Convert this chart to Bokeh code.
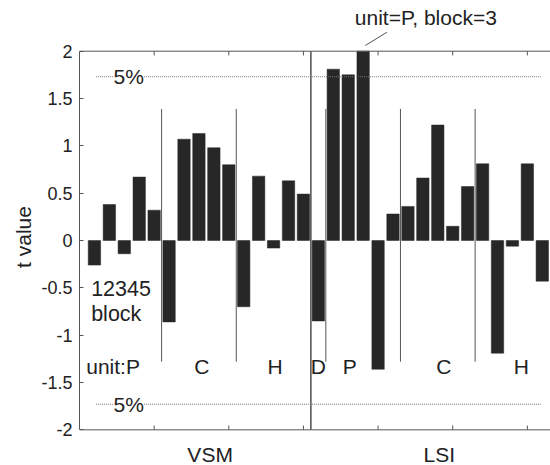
from bokeh.plotting import figure
from bokeh.models import Range1d, FixedTicker, Label, Arrow, ColumnDataSource, Span
from bokeh.embed import file_html
from bokeh.resources import INLINE

# ---- data ----
blocks = list(range(1, 32))
t_values = [-0.26, 0.38, -0.14, 0.67, 0.32,      # VSM unit P
            -0.86, 1.07, 1.13, 0.98, 0.80,       # VSM unit C
            -0.70, 0.68, -0.08, 0.63, 0.49,      # VSM unit H
            -0.85,                               # LSI unit D
            1.81, 1.75, 2.00, -1.36, 0.28,       # LSI unit P
            0.36, 0.66, 1.22, 0.15, 0.57,        # LSI unit C
            0.81, -1.19, -0.06, 0.81, -0.43]     # LSI unit H
unit_names = ["unit:P", "C", "H", "D", "P", "C", "H"]
unit_label_x = [2.25, 8.2, 13.1, 16.0, 18.1, 24.4, 29.6]
unit_bounds = [5.5, 10.5, 16.5, 21.5, 26.5]
section_bound = [15.5]
section_names = ["VSM", "LSI"]
section_label_x = [8.75, 24.1]
crit_t = [1.73, -1.73]
y_ticks = [-2, -1.5, -1, -0.5, 0, 0.5, 1, 1.5, 2]
y_tick_labels = ["-2", "-1.5", "-1", "-0.5", "0", "0.5", "1", "1.5", "2"]
x_ticks = [5, 10, 15, 20, 25, 30]
y_min, y_max = -2, 2

FONT = "Liberation Sans"
TXT = "#222222"
LINE = "#555555"

p = figure(width=550, height=465, x_range=Range1d(0, 31.55), y_range=Range1d(-2.377, 2.451),
           output_backend="svg", toolbar_location=None, x_axis_location=None,
           min_border_left=79, min_border_right=0, min_border_top=8, min_border_bottom=0)
p.outline_line_color = None
p.background_fill_color = "white"
p.border_fill_color = "white"
p.grid.visible = False

# bars
src = ColumnDataSource(dict(x=blocks, top=t_values))
p.vbar(x="x", top="top", bottom=0, width=0.83, source=src,
       fill_color="#272727", line_color="#272727", line_width=0.5)

# unit separators
p.segment(x0=unit_bounds, x1=unit_bounds, y0=[-1.28] * len(unit_bounds), y1=[1.39] * len(unit_bounds),
          line_color=LINE, line_width=1)
# section divider
p.segment(x0=section_bound, x1=section_bound, y0=[y_min], y1=[y_max], line_color="#333333", line_width=1.3)

# horizontal frame lines at y=-2 and y=2 with inward ticks
tick_len = 0.045
for yv, d in ((y_min, 1), (y_max, -1)):
    p.add_layout(Span(location=yv, dimension="width", line_color=LINE, line_width=1))
    p.segment(x0=x_ticks, x1=x_ticks, y0=[yv] * len(x_ticks), y1=[yv + d * tick_len] * len(x_ticks),
              line_color=LINE, line_width=1)

# 5% critical lines
p.segment(x0=[1.1, 1.1], x1=[30.9, 30.9], y0=crit_t, y1=crit_t,
          line_color="#777777", line_width=1, line_dash="1 1")
for yv in crit_t:
    p.add_layout(Label(x=3.3, y=yv, text="5%", text_align="center", text_baseline="middle",
                       text_font=FONT, text_font_size="21px", text_color=TXT,
                       background_fill_color="white", background_fill_alpha=1.0))

# in-plot texts
p.add_layout(Label(x=0.78, y=-0.506, text="12345", text_font=FONT, text_font_size="21.5px",
                   text_color=TXT, text_baseline="middle"))
p.add_layout(Label(x=0.78, y=-0.78, text="block", text_font=FONT, text_font_size="21.5px",
                   text_color=TXT, text_baseline="middle"))
for name, xv in zip(unit_names, unit_label_x):
    p.add_layout(Label(x=xv, y=-1.33, text=name, text_font=FONT, text_font_size="21px",
                       text_color=TXT, text_align="center", text_baseline="middle"))

# section labels under the axis
for name, xv in zip(section_names, section_label_x):
    p.add_layout(Label(x=xv, y=-2.26, text=name, text_font=FONT, text_font_size="21px",
                       text_color=TXT, text_align="center", text_baseline="middle"))

# callout for the max bar
p.add_layout(Arrow(end=None, x_start=19.14, y_start=2.06, x_end=20.59, y_end=2.2,
                   line_color=LINE, line_width=1))
p.add_layout(Label(x=23.2, y=2.351, text="unit=P, block=3", text_font=FONT, text_font_size="21px",
                   text_color=TXT, text_align="center", text_baseline="middle"))

# y axis
yax = p.yaxis[0]
yax.ticker = FixedTicker(ticks=y_ticks)
yax.bounds = (y_min, y_max)
yax.major_label_overrides = {float(t): s for t, s in zip(y_ticks, y_tick_labels)}
yax.major_tick_in = 4
yax.major_tick_out = 0
yax.minor_tick_line_color = None
yax.major_label_standoff = 7
yax.major_label_text_font = FONT
yax.major_label_text_font_size = "18px"
yax.major_label_text_color = TXT
yax.axis_label = "t value"
yax.axis_label_text_font = FONT
yax.axis_label_text_font_size = "21px"
yax.axis_label_text_font_style = "normal"
yax.axis_label_text_color = TXT
yax.axis_label_standoff = 3
yax.axis_line_color = LINE
yax.major_tick_line_color = LINE

open("out.html", "w").write(file_html(p, INLINE))
